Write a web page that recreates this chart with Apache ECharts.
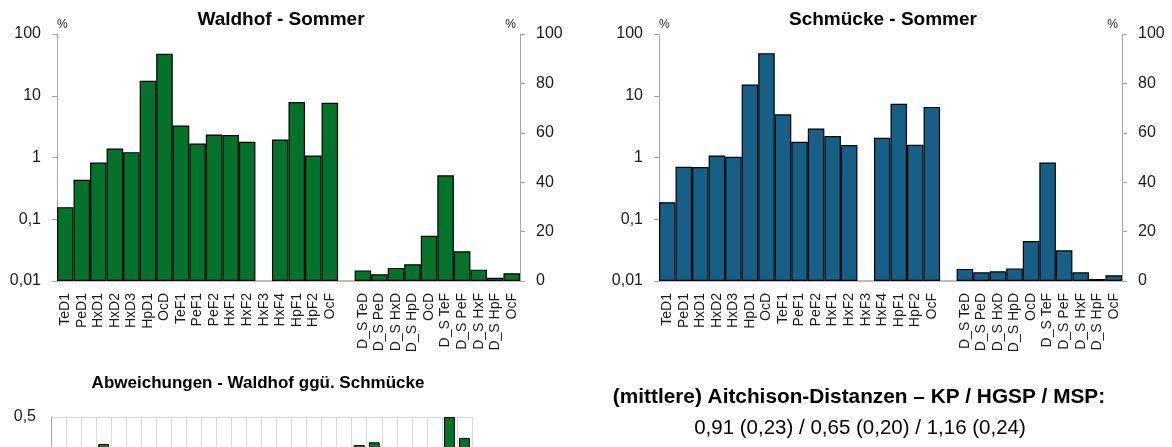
<!DOCTYPE html>
<html><head><meta charset="utf-8">
<script src="https://cdn.jsdelivr.net/npm/echarts@6/dist/echarts.min.js"></script>
<style>html,body{margin:0;padding:0;background:#fff}#c{width:1172px;height:447px}</style>
</head><body><div id="c"></div>
<script>
// ---------- data ----------
const mainCategories = ['TeD1','PeD1','HxD1','HxD2','HxD3','HpD1','OcD','TeF1','PeF1','PeF2','HxF1','HxF2','HxF3','HxF4','HpF1','HpF2','OcF'];
const dsCategories = ['D_S TeD','D_S PeD','D_S HxD','D_S HpD','OcD','D_S TeF','D_S PeF','D_S HxF','D_S HpF','OcF'];
const categories = mainCategories.concat([''], dsCategories);

const logTicks = [0.01, 0.1, 1, 10, 100];
const pctTicks = [0, 20, 40, 60, 80, 100];

// Waldhof - Sommer (left axis, log %)
const waldhofMain = [0.157, 0.435, 0.83, 1.40, 1.22, 17.5, 48, 3.3, 1.69, 2.36, 2.31, 1.80, null, 1.96, 7.9, 1.08, 7.7];
// Waldhof - Sommer (right axis, linear %)
const waldhofDS = [4.3, 2.7, 5.3, 6.8, 18.3, 42.8, 12.0, 4.6, 1.3, 3.1];

// Schmücke - Sommer
const schmueckeMain = [0.189, 0.71, 0.70, 1.08, 1.03, 15.2, 49, 5.0, 1.80, 2.95, 2.22, 1.59, null, 2.08, 7.4, 1.61, 6.6];
const schmueckeDS = [4.9, 3.5, 3.9, 5.1, 16.2, 48.0, 12.4, 3.5, 0.8, 2.3];

// Abweichungen - Waldhof ggü. Schmücke (only the top of this chart is visible)
const deviation = [-0.19, -0.49, 0.17, 0.255, 0.17, 0.14, -0.02, -0.42, -0.06, -0.22, 0.04, 0.12, null, -0.06, 0.07, -0.40, 0.15, null,
                   -0.13, -0.26, 0.245, 0.27, 0.12, -0.11, -0.03, 0.20, 0.5, 0.31];

// ---------- helpers ----------
const mainData = arr => arr.concat([null], dsCategories.map(() => null));
const dsData = arr => mainCategories.map(() => null).concat([null], arr);
const comma = v => String(Number(Number(v).toPrecision(3))).replace('.', ',');

const GREEN = '#03732B';
const BLUE = '#165F87';
const AXIS = '#a6a6a6';
const TXT = '#1a1a1a';
const FONT = '"Liberation Sans", Arial, sans-serif';

function topX(gridIndex) {
  return {
    type: 'category', gridIndex, data: categories,
    axisLine: { lineStyle: { color: AXIS, width: 1.5 } },
    axisTick: { show: false },
    axisLabel: { rotate: 90, interval: 0, fontSize: 14, color: TXT, fontFamily: FONT, margin: 12 }
  };
}
function logY(gridIndex) {
  return {
    type: 'log', logBase: 10, gridIndex, min: logTicks[0], max: logTicks[logTicks.length - 1], startValue: logTicks[0],
    name: '%', nameLocation: 'end', nameGap: 3,
    nameTextStyle: { fontSize: 12, color: TXT, fontFamily: FONT, align: 'left' },
    axisLine: { show: true, lineStyle: { color: AXIS } },
    axisTick: { show: true, inside: false, length: 5, lineStyle: { color: AXIS } },
    splitLine: { show: false },
    axisLabel: { fontSize: 16, color: TXT, fontFamily: FONT, margin: 16, formatter: comma }
  };
}
function pctY(gridIndex) {
  return {
    type: 'value', gridIndex, position: 'right', min: pctTicks[0], max: pctTicks[pctTicks.length - 1], interval: 20,
    name: '%', nameLocation: 'end', nameGap: 3,
    nameTextStyle: { fontSize: 12, color: TXT, fontFamily: FONT, align: 'right', padding: [0, 4, 0, 0] },
    axisLine: { show: true, lineStyle: { color: AXIS } },
    axisTick: { show: true, inside: false, length: 5, lineStyle: { color: AXIS } },
    splitLine: { show: false },
    axisLabel: { fontSize: 16, color: TXT, fontFamily: FONT, margin: 16 }
  };
}
function barSeries(data, xi, yi, color) {
  return {
    type: 'bar', xAxisIndex: xi, yAxisIndex: yi, data,
    barCategoryGap: '0%', barGap: '-100%',
    itemStyle: { color, borderColor: '#000', borderWidth: 1.2 },
    animation: false
  };
}

const option = {
  backgroundColor: '#fff',
  animation: false,
  textStyle: { fontFamily: FONT },
  title: [
    { text: 'Waldhof - Sommer', left: 281, top: 20, textAlign: 'center', textVerticalAlign: 'middle', padding: 0,
      textStyle: { fontSize: 19, fontWeight: 'bold', color: '#000', fontFamily: FONT } },
    { text: 'Schmücke - Sommer', left: 883, top: 20, textAlign: 'center', textVerticalAlign: 'middle', padding: 0,
      textStyle: { fontSize: 19, fontWeight: 'bold', color: '#000', fontFamily: FONT } },
    { text: 'Abweichungen - Waldhof ggü. Schmücke', left: 258, top: 383, textAlign: 'center', textVerticalAlign: 'middle', padding: 0,
      textStyle: { fontSize: 17, fontWeight: 'bold', color: '#000', fontFamily: FONT } },
    { text: '(mittlere) Aitchison-Distanzen – KP / HGSP / MSP:', left: 859, top: 397, textAlign: 'center', textVerticalAlign: 'middle', padding: 0,
      textStyle: { fontSize: 20.8, fontWeight: 'bold', color: '#000', fontFamily: FONT } },
    { text: '0,91 (0,23) / 0,65 (0,20) / 1,16 (0,24)', left: 860, top: 428, textAlign: 'center', textVerticalAlign: 'middle', padding: 0,
      textStyle: { fontSize: 20.5, fontWeight: 'normal', color: '#000', fontFamily: FONT } }
  ],
  grid: [
    { left: 57, top: 34, width: 463, height: 247, outerBoundsMode: 'none' },
    { left: 659, top: 34, width: 463, height: 247, outerBoundsMode: 'none' },
    { left: 51, top: 417, width: 421, height: 110, outerBoundsMode: 'none' }
  ],
  xAxis: [
    topX(0),
    topX(1),
    { type: 'category', gridIndex: 2, data: categories,
      axisLine: { show: false }, axisTick: { show: false, interval: 0 }, axisLabel: { show: false, interval: 0 },
      splitLine: { show: true, interval: 0, lineStyle: { color: '#d9d9d9' } } }
  ],
  yAxis: [
    logY(0),
    pctY(0),
    logY(1),
    pctY(1),
    { type: 'value', gridIndex: 2, min: -0.5, max: 0.5, interval: 0.5,
      axisLine: { show: true, lineStyle: { color: AXIS } },
      axisTick: { show: false },
      splitLine: { show: true, lineStyle: { color: '#d9d9d9' } },
      axisLabel: { fontSize: 16, color: TXT, fontFamily: FONT, margin: 15, formatter: comma } }
  ],
  series: [
    barSeries(mainData(waldhofMain), 0, 0, GREEN),
    barSeries(dsData(waldhofDS), 0, 1, GREEN),
    barSeries(mainData(schmueckeMain), 1, 2, BLUE),
    barSeries(dsData(schmueckeDS), 1, 3, BLUE),
    { type: 'bar', xAxisIndex: 2, yAxisIndex: 4, data: deviation, barCategoryGap: '28%',
      itemStyle: { color: GREEN, borderColor: '#000', borderWidth: 1 }, animation: false }
  ]
};

const chart = echarts.init(document.getElementById('c'), null, { renderer: 'canvas' });
chart.setOption(option);
</script>
</body></html>
